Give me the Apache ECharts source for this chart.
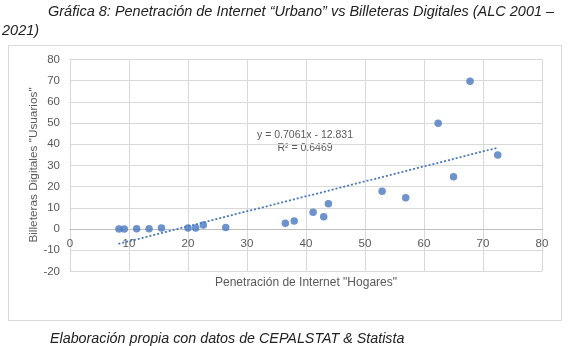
<!DOCTYPE html>
<html>
<head>
<meta charset="utf-8">
<script src="https://cdn.jsdelivr.net/npm/echarts@6/dist/echarts.min.js"></script>
<style>
html,body{margin:0;padding:0;background:#fff;}
#chart{width:573px;height:346px;}
</style>
</head>
<body>
<div id="chart"></div>
<script>
// Data
const xHogares = [8.3, 9.2, 11.3, 13.4, 15.5, 20.0, 21.3, 22.6, 26.4, 36.5, 38.0, 41.2, 43.0, 43.8, 52.9, 56.9, 62.4, 65.0, 67.8, 72.5];
const yUsuarios = [0.0, 0.0, 0.2, 0.2, 0.5, 0.5, 0.5, 1.9, 0.8, 2.8, 3.8, 7.9, 5.8, 11.9, 17.8, 14.8, 49.9, 24.7, 69.7, 34.9];
const trendX = [8.2, 72.5];
const trendY = [-7.0, 38.4];
const xTicks = [0, 80, 10];
const yTicks = [-20, 80, 10];
const titleLine1 = 'Gráfica 8: Penetración de Internet “Urbano” vs Billeteras Digitales (ALC 2001 –';
const titleLine2 = '2021)';
const footer = 'Elaboración propia con datos de CEPALSTAT & Statista';
const eqText = 'y = 0.7061x - 12.831';
const r2Text = 'R² = 0.6469';
const xTitle = 'Penetración de Internet "Hogares"';
const yTitle = 'Billeteras Digitales "Usuarios"';

const points = xHogares.map((x, i) => [x, yUsuarios[i]]);
const trend = trendX.map((x, i) => [x, trendY[i]]);

const gridTop = 59.5, gridHeight = 212;
// distance from the grid bottom up to the y = 0 line
const zeroOffset = gridHeight * (0 - yTicks[0]) / (yTicks[1] - yTicks[0]);

const chart = echarts.init(document.getElementById('chart'), null, {renderer: 'canvas'});
const gray = '#595959';
const font = 'Liberation Sans, Arial, sans-serif';
chart.setOption({
  animation: false,
  backgroundColor: '#fff',
  grid: {left: 70, top: gridTop, width: 472, height: gridHeight, containLabel: false},
  xAxis: {
    type: 'value', min: xTicks[0], max: xTicks[1], interval: xTicks[2],
    position: 'bottom', offset: -zeroOffset,
    axisLine: {show: true, onZero: false, lineStyle: {color: '#bfbfbf', width: 1}},
    axisTick: {show: false},
    axisLabel: {color: gray, fontSize: 11.5, fontFamily: font, margin: 9},
    splitLine: {show: true, lineStyle: {color: '#d9d9d9', width: 1}}
  },
  yAxis: {
    type: 'value', min: yTicks[0], max: yTicks[1], interval: yTicks[2],
    axisLine: {show: false},
    axisTick: {show: false},
    axisLabel: {color: gray, fontSize: 11.5, fontFamily: font, margin: 10},
    splitLine: {show: true, lineStyle: {color: '#d9d9d9', width: 1}}
  },
  series: [
    {
      type: 'line', data: trend, symbol: 'none', silent: true,
      lineStyle: {color: '#4878c0', width: 1.8, type: [2, 2]}, z: 2
    },
    {
      type: 'scatter', data: points, symbol: 'circle', symbolSize: 7.5,
      itemStyle: {color: '#4878c0'}, z: 3
    }
  ],
  graphic: [
    {type: 'rect', shape: {x: 8.5, y: 45.5, width: 553, height: 275}, style: {fill: 'none', stroke: '#d9d9d9', lineWidth: 1}, z: -1},
    {type: 'text', x: 48, y: 12, style: {text: titleLine1, font: 'italic 14.5px ' + font, fill: '#222', verticalAlign: 'middle'}},
    {type: 'text', x: 2, y: 31, style: {text: titleLine2, font: 'italic 14.5px ' + font, fill: '#222', verticalAlign: 'middle'}},
    {type: 'text', x: 50, y: 339, style: {text: footer, font: 'italic 14.3px ' + font, fill: '#222', verticalAlign: 'middle'}},
    {type: 'text', x: 305, y: 135, style: {text: eqText, font: '10.5px ' + font, fill: gray, align: 'center', verticalAlign: 'middle'}},
    {type: 'text', x: 305, y: 148.5, style: {text: r2Text, font: '10.5px ' + font, fill: gray, align: 'center', verticalAlign: 'middle'}},
    {type: 'text', x: 306, y: 283, style: {text: xTitle, font: '12px ' + font, fill: gray, align: 'center', verticalAlign: 'middle'}},
    {type: 'text', x: 34, y: 165, rotation: Math.PI / 2, style: {text: yTitle, font: '11.8px ' + font, fill: gray, align: 'center', verticalAlign: 'middle'}}
  ]
});
</script>
</body>
</html>
